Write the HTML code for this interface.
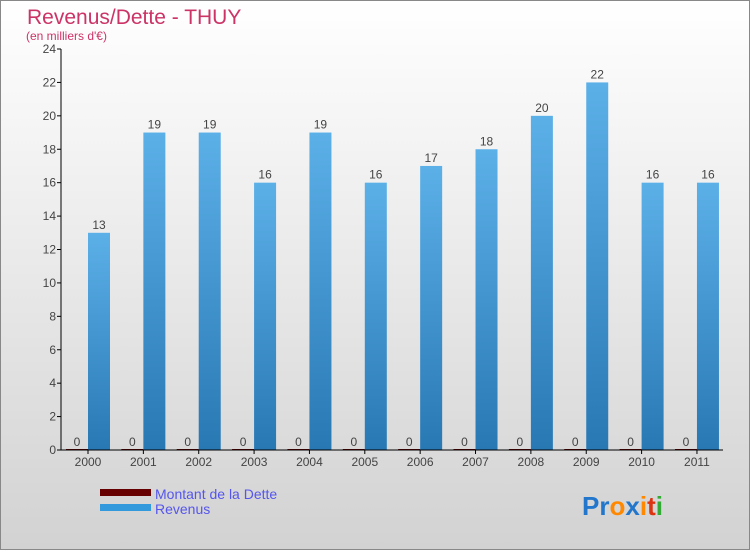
<!DOCTYPE html>
<html><head><meta charset="utf-8"><style>
body{margin:0;width:750px;height:550px;overflow:hidden;font-family:"Liberation Sans",sans-serif}
</style></head><body>
<svg width="750" height="550" xmlns="http://www.w3.org/2000/svg" id="chart">
<defs>
<linearGradient id="bg" x1="0" y1="0" x2="0" y2="1"><stop offset="0" stop-color="#ffffff"/><stop offset="1" stop-color="#d2d2d2"/></linearGradient>
<linearGradient id="bar" x1="0" y1="0" x2="0" y2="1"><stop offset="0" stop-color="#5cb0e8"/><stop offset="1" stop-color="#2878b4"/></linearGradient>
</defs>
<rect x="0.5" y="0.5" width="749" height="549" fill="url(#bg)" stroke="#888"/>
<text x="27" y="24" font-size="21" fill="#cc3366">Revenus/Dette - THUY</text>
<text x="26" y="40" font-size="12" fill="#cc3366">(en milliers d'€)</text>
<g id="plot"></g>
<g>
<rect x="100" y="489" width="51" height="7" fill="#660000"/>
<text x="155" y="499" font-size="14" fill="#5555ee">Montant de la Dette</text>
<rect x="100" y="504" width="51" height="7" fill="#3399dd"/>
<text x="155" y="514" font-size="14" fill="#5555ee">Revenus</text>
</g>
<g font-size="26" font-weight="bold">
<text x="582" y="515"><tspan fill="#2277cc">Pr</tspan><tspan fill="#ff8800">o</tspan><tspan fill="#2277cc">x</tspan><tspan fill="#ff8800">i</tspan><tspan fill="#dd3311">t</tspan><tspan fill="#33aa33">i</tspan></text>
</g>
</svg>
<script>
const categories=["2000","2001","2002","2003","2004","2005","2006","2007","2008","2009","2010","2011"];
const revenus=[13,19,19,16,19,16,17,18,20,22,16,16];
const dette=[0,0,0,0,0,0,0,0,0,0,0,0];
const yTicks=[0,2,4,6,8,10,12,14,16,18,20,22,24];
const NS="http://www.w3.org/2000/svg";
const g=document.getElementById('plot');
const x0=61,step=55.36,c0=88,yBase=450,yTop=49,yMax=24;
const y=v=>yBase-(yBase-yTop)*v/yMax;
const cx=i=>c0+step*i;
function mk(t,a,txt){const e=document.createElementNS(NS,t);for(const k in a)e.setAttribute(k,a[k]);if(txt!==undefined)e.textContent=txt;g.appendChild(e);return e;}
yTicks.forEach(v=>{
 const l=mk('line',{x1:x0-4,x2:x0,y1:y(v),y2:y(v),stroke:'#000'});
 
 
 const t=mk('text',{x:x0-5,y:y(v)+4,'font-size':12,fill:'#444','text-anchor':'end'},v);
 
 
});
categories.forEach((c,i)=>{
 const d=mk('rect',{x:cx(i)-22,y:y(dette[i])-1,width:22,height:yBase-y(dette[i])+1,fill:'#660000'});
 
 
 const dl=mk('text',{x:cx(i)-11,y:y(dette[i])-4,'font-size':12,fill:'#444','text-anchor':'middle'},dette[i]);
 
 
 const r=mk('rect',{x:cx(i),y:y(revenus[i]),width:22,height:yBase-y(revenus[i]),fill:'url(#bar)'});
 
 
 const rl=mk('text',{x:cx(i)+11,y:y(revenus[i])-4,'font-size':12,fill:'#444','text-anchor':'middle'},revenus[i]);
 
 
 const tk=mk('line',{x1:cx(i),x2:cx(i),y1:yBase,y2:yBase+4,stroke:'#000'});
 
 
 const xl=mk('text',{x:cx(i),y:yBase+16,'font-size':12,fill:'#444','text-anchor':'middle'},c);
 
 
});
const ya=mk('line',{x1:x0,x2:x0,y1:yTop,y2:yBase,stroke:'#000'});


const xa=mk('line',{x1:x0,x2:723,y1:yBase,y2:yBase,stroke:'#000'});


</script>
</body></html>
